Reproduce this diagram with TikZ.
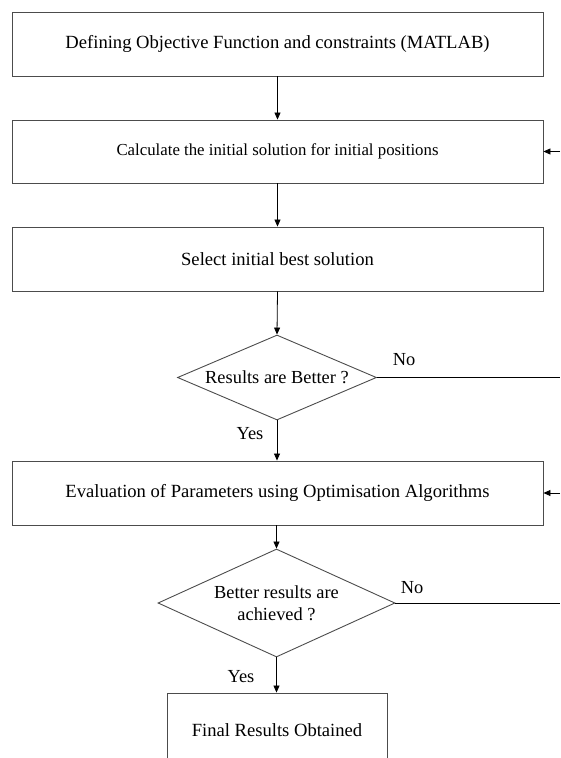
\documentclass[tikz,border=0pt]{standalone}
\usepackage{fontspec}
\setmainfont{Liberation Serif}
\usetikzlibrary{shapes.geometric,arrows.meta}
\begin{document}
\begin{tikzpicture}[x=1pt,y=-1pt,
  procbox/.style={draw=black!70,line width=0.9pt,rectangle,minimum width=531pt,inner sep=0pt,font=\fontsize{18.6}{22}\selectfont},
  decision/.style={draw=black!70,line width=0.9pt,diamond,inner sep=0pt,align=center,font=\fontsize{18.4}{22}\selectfont},
  lbl/.style={font=\fontsize{18.4}{22}\selectfont,inner sep=0pt},
  flow/.style={line width=0.8pt,-{Triangle[length=7pt,width=6pt]}},
  plain/.style={line width=0.8pt}]
\path[use as bounding box,clip] (0,0) rectangle (560,758);
\node[procbox,minimum height=64pt] (b1) at (277.5,44) {Defining Objective Function and constraints (MATLAB)};
\node[procbox,minimum height=63pt,font=\fontsize{16.8}{20}\selectfont] (b2) at (277.5,151.5) {Calculate the initial solution for initial positions};
\node[procbox,minimum height=64pt] (b3) at (277.5,259) {Select initial best solution};
\node[decision,aspect=2.34,minimum width=199pt,minimum height=85pt] (d1) at (277,377.5) {Results are Better ?};
\node[procbox,minimum height=64pt] (b4) at (277.5,493) {Evaluation of Parameters using Optimisation Algorithms};
\node[decision,aspect=2.19,minimum width=237pt,minimum height=108pt] (d2) at (276.5,603) {Better results are\\achieved ?};
\node[procbox,minimum width=220pt,minimum height=74pt] (b5) at (277,730) {Final Results Obtained};
\node[lbl] (no1) at (404,360) {No};
\node[lbl] (yes1) at (250,434) {Yes};
\node[lbl] (no2) at (412,588) {No};
\node[lbl] (yes2) at (241,677) {Yes};
\coordinate (n1) at (560,377.5);
\coordinate (n2) at (560,603);
\coordinate (r1) at (560,151.5);
\coordinate (r2) at (560,493);
\draw[flow] (b1.south) -- (b2.north);
\draw[flow] (b2.south) -- (b3.north);
\draw[flow] (b3.south) -- (d1.north);
\draw[flow] (d1.south) -- (d1.south |- b4.north);
\draw[flow] (d2.north |- b4.south) -- (d2.north);
\draw[flow] (d2.south) -- (d2.south |- b5.north);
\draw[plain] (d1.east) -- (n1);
\draw[plain] (d2.east) -- (n2);
\draw[flow] (r1) -- (b2.east);
\draw[flow] (r2) -- (b4.east);
\end{tikzpicture}
\end{document}
